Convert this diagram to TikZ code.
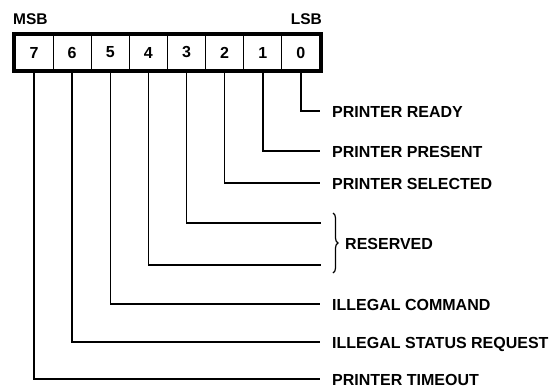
\documentclass[tikz,border=0pt]{standalone}
\usepackage{fontspec}
\setmainfont{Liberation Sans}
\usetikzlibrary{decorations.pathreplacing}
\begin{document}
\begin{tikzpicture}[x=1pt,y=-1pt,
  cell/.style={draw,line width=1.2pt,minimum width=38.125pt,minimum height=35pt,inner sep=0pt,
    font=\bfseries\fontsize{16}{16}\selectfont},
  lbl/.style={anchor=west,inner xsep=12pt,inner ysep=0pt,text height=12pt,text depth=0pt,
    font=\bfseries\fontsize{16}{16}\selectfont},
  hdr/.style={inner sep=0pt,text height=12pt,text depth=0pt,font=\bfseries\fontsize{15.5}{15.5}\selectfont},
  wire/.style={line width=1.4pt}]
\useasboundingbox (0,0) rectangle (560,389);
% register
\draw[line width=3pt] (13.5,33) rectangle (321.5,71.5);
\foreach \b [count=\k from 0] in {7,6,5,4,3,2,1,0}{
  \node[cell] (b\b) at ({15+38.125*(\k+0.5)},52.5) {\b};
}
\node[hdr,anchor=west] (msb) at (13,18) {MSB};
\node[hdr,anchor=east] (lsb) at (322,18) {LSB};
% labels
\node[lbl] (l0) at (320,111) {PRINTER READY};
\node[lbl] (l1) at (320,151) {PRINTER PRESENT};
\node[lbl] (l2) at (320,183) {PRINTER SELECTED};
\node[lbl] (l5) at (320,304) {ILLEGAL COMMAND};
\node[lbl] (l6) at (320,342) {ILLEGAL STATUS REQUEST};
\node[lbl] (l7) at (320,379) {PRINTER TIMEOUT};
\coordinate (r3) at (321,223);
\coordinate (r4) at (321,265);
\coordinate (bt) at (333,213);
\coordinate (bb) at (333,273);
\draw[line width=1.2pt,decorate,decoration={brace,amplitude=5pt}] (bt) -- (bb);
\node[lbl,anchor=west,inner xsep=0pt] (res) at (345,243) {RESERVED};
% connectors
\draw[wire] (b0.south) |- (l0.west);
\draw[wire] (b1.south) |- (l1.west);
\draw[wire] (b2.south) |- (l2.west);
\draw[wire] (b3.south) |- (r3);
\draw[wire] (b4.south) |- (r4);
\draw[wire] (b5.south) |- (l5.west);
\draw[wire] (b6.south) |- (l6.west);
\draw[wire] (b7.south) |- (l7.west);
\end{tikzpicture}
\end{document}
